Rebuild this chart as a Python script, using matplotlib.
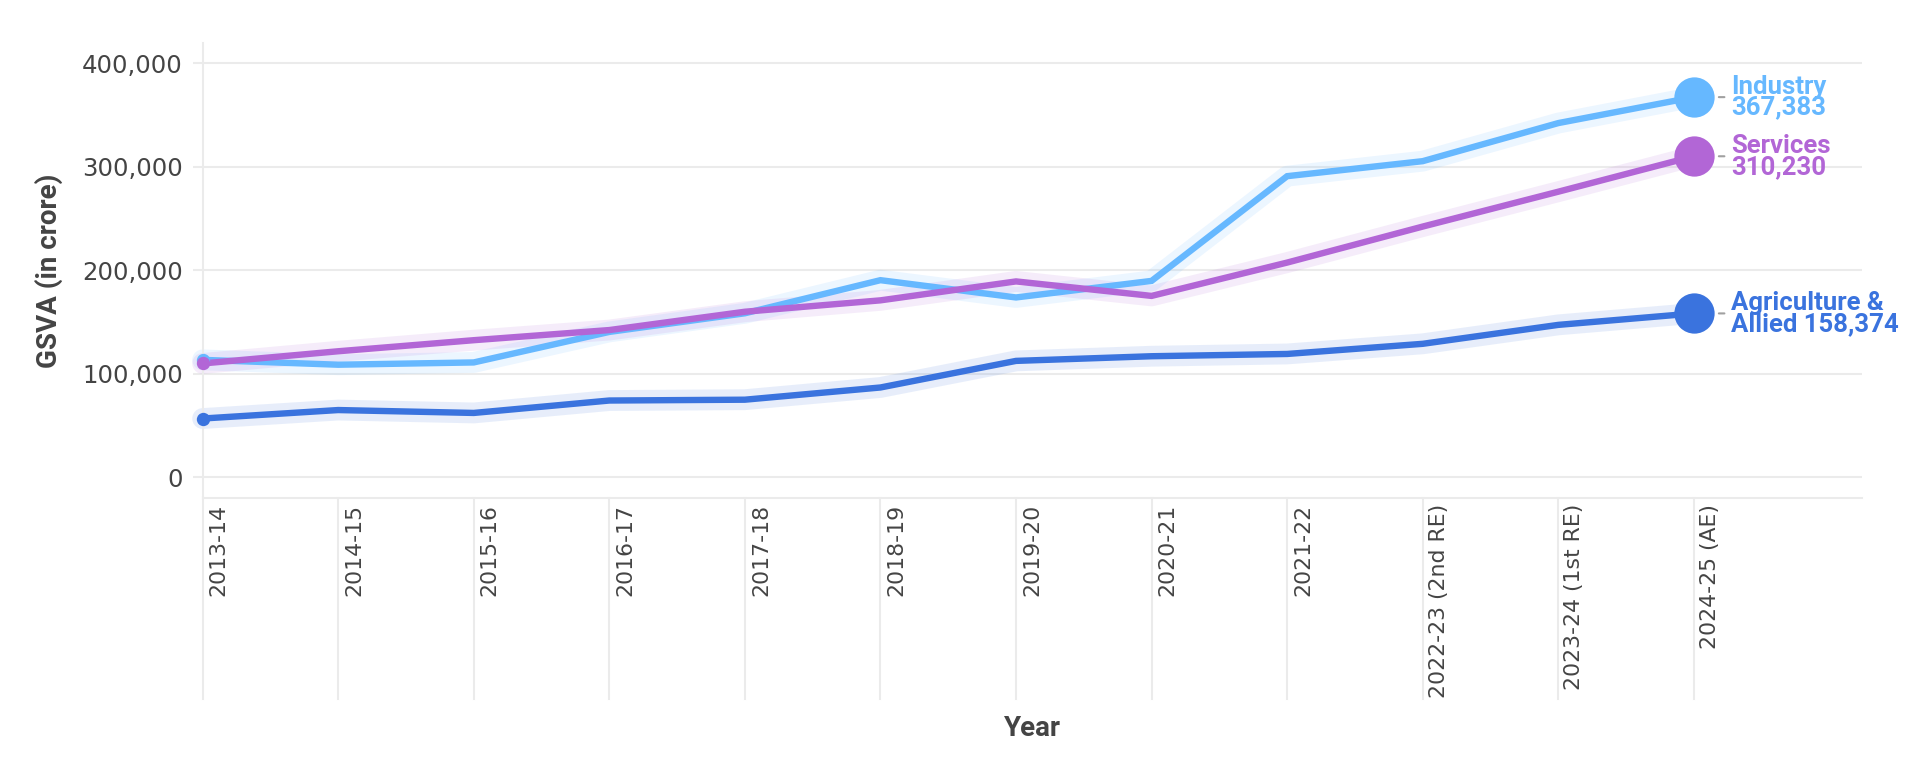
import matplotlib
matplotlib.use("Agg")
import matplotlib.pyplot as plt
import matplotlib.transforms as mtransforms
from matplotlib.lines import Line2D
import numpy as np

# ---------- data (GSVA, in crore) ---------- #
years = ["2013-14", "2014-15", "2015-16", "2016-17", "2017-18", "2018-19",
         "2019-20", "2020-21", "2021-22", "2022-23 (2nd RE)",
         "2023-24 (1st RE)", "2024-25 (AE)"]

industry = [113500, 108800, 111000, 140500, 158500, 190500,
            173800, 189800, 291000, 305500, 342300, 367383]
services = [110000, 121800, 132500, 142300, 160000, 171000,
            189300, 175300, 207500, 242300, 276000, 310230]
agriculture = [56800, 65000, 62200, 74200, 75000, 86800,
               112500, 117000, 119200, 129000, 147300, 158374]

series = [
    ("Industry", industry, "#66B8FF", "Industry\n367,383"),
    ("Services", services, "#B266D6", "Services\n310,230"),
    ("Agriculture & Allied", agriculture, "#3A73DE", "Agriculture &\nAllied 158,374"),
]

# ---------- figure ---------- #
fig = plt.figure(figsize=(19.15, 7.69), dpi=100)
ax = fig.add_axes([0.1058, 0.3524, 0.8665, 0.5921])

grid_c = "#ebebeb"
text_c = "#444444"
x = np.arange(len(years))

for name, vals, col, lab in series:
    # soft halo + main line
    ax.plot(x, vals, color=col, lw=15, alpha=0.12, clip_on=False,
            solid_capstyle="round", solid_joinstyle="round", zorder=2)
    ax.plot(x, vals, color=col, lw=4.6, solid_joinstyle="miter",
            clip_on=False, zorder=3)
    ax.plot(x[0], vals[0], "o", ms=9.6, color=col, mec="none",
            clip_on=False, zorder=4)
    ax.plot(x[-1], vals[-1], "o", ms=29, color=col, mec="none",
            clip_on=False, zorder=4)
    # end label with little leader dash
    ax.annotate("", xy=(x[-1], vals[-1]), xytext=(22, 0),
                textcoords="offset points",
                arrowprops=dict(arrowstyle="-", color="#a0a0a0", lw=1.5,
                                shrinkA=0, shrinkB=18))
    ax.annotate(lab, xy=(x[-1], vals[-1]), xytext=(27, 0),
                textcoords="offset points", ha="left", va="center",
                color=col, fontsize=18.5, fontweight="bold",
                family="Roboto", linespacing=0.85, annotation_clip=False)

# ---------- axes cosmetics ---------- #
ax.set_xlim(0, 12.24)
ax.set_ylim(-20000, 420000)

yt = [0, 100000, 200000, 300000, 400000]
ax.set_yticks(yt)
ax.set_yticklabels([f"{v:,}" for v in yt])
ax.tick_params(axis="y", length=7.2, width=1.5, color=grid_c, pad=7,
               labelsize=17.6, labelcolor=text_c)
ax.set_xticks([])
ax.grid(axis="y", color=grid_c, lw=1.5, zorder=0)
ax.set_axisbelow(True)

for s in ["top", "right"]:
    ax.spines[s].set_visible(False)
for s in ["left", "bottom"]:
    ax.spines[s].set_color(grid_c)
    ax.spines[s].set_linewidth(1.5)

# category band below the axis: separators + rotated labels
blend = mtransforms.blended_transform_factory(ax.transData, ax.transAxes)
lab_tr = mtransforms.offset_copy(blend, fig=fig, x=6, y=-6, units="dots")
for i, yr in enumerate(years):
    ax.add_line(Line2D([i, i], [0, -0.4415], transform=blend, color=grid_c,
                       lw=1.5, clip_on=False))
    ax.text(i, 0, yr, transform=lab_tr, rotation=90, ha="left", va="top",
            fontsize=15.8, color=text_c)

ax.text(0.5, -0.507, "Year", transform=ax.transAxes, ha="center",
        va="center", fontsize=20, fontweight="bold", family="Roboto",
        color=text_c)
fig.text(0.0256, 0.6476, "GSVA (in crore)", rotation=90, ha="center",
         va="center", fontsize=20, fontweight="bold", family="Roboto",
         color=text_c)

fig.savefig("out.png", dpi=100, facecolor="white")
